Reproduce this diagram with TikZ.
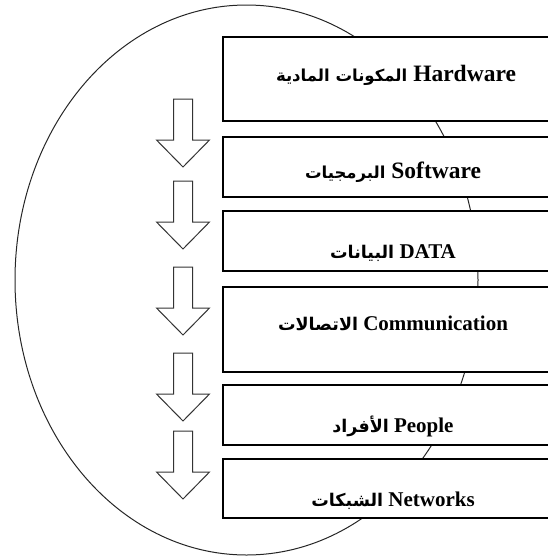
\documentclass[tikz,border=0pt]{standalone}
\usepackage{fontspec}
\setmainfont{Liberation Serif}
\newfontfamily\arabicfont[Script=Arabic]{DejaVu Sans}
\TeXXeTstate=1
\newcommand\arbig[1]{{\arabicfont\fontsize{16.5}{20}\selectfont\bfseries\beginR #1\endR}}
\newcommand\arsmall[1]{{\arabicfont\fontsize{17.5}{20}\selectfont\bfseries\beginR #1\endR}}
\begin{document}
\begin{tikzpicture}[x=1pt,y=-1pt,
  ring/.style={draw=black!85, line width=1pt},
  layerbox/.style={draw=black, line width=1.2pt, fill=white, minimum width=340pt, inner sep=0pt, outer sep=0pt},
  biglbl/.style={anchor=base, inner sep=0pt, font=\fontsize{23.5}{28}\selectfont\bfseries},
  lbl/.style={anchor=base, inner sep=0pt, font=\fontsize{21}{24}\selectfont\bfseries},
  arrowline/.style={draw=black!80, line width=1pt, fill=white, line join=miter},
  downarrow/.pic={\draw[arrowline] (-9.5,0) -- (9.5,0) -- (9.5,41) -- (26.5,41) -- (0,68) -- (-26.5,41) -- (-9.5,41) -- cycle;}
]
\useasboundingbox (0,0) rectangle (548,560);
\clip (0,0) rectangle (548,560);

% the enclosing ring, partly hidden behind the layers
\draw[ring] (246.5,280) ellipse [x radius=231.5, y radius=275];

% layers
\node[layerbox, minimum height=84pt] (b1) at (393,79) {};
\node[layerbox, minimum height=60pt] (b2) at (393,167) {};
\node[layerbox, minimum height=60pt] (b3) at (393,241) {};
\node[layerbox, minimum height=85pt] (b4) at (393,329.5) {};
\node[layerbox, minimum height=60pt] (b5) at (393,415) {};
\node[layerbox, minimum height=59pt] (b6) at (393,488.5) {};

% labels
\node[biglbl] (t1) at (396,81) {\arbig{المكونات المادية}\ Hardware};
\node[biglbl] (t2) at (393,178) {\arbig{البرمجيات}\ Software};
\node[lbl] (t3) at (393,258) {\arsmall{البيانات}\ DATA};
\node[lbl] (t4) at (393,330) {\arsmall{الاتصالات}\ Communication};
\node[lbl] (t5) at (393,432) {\arsmall{الأفراد}\ People};
\node[lbl] (t6) at (393,506) {\arsmall{الشبكات}\ Networks};

% downward flow arrows
\pic (a1) at (183,99) {downarrow};
\pic (a2) at (183,181) {downarrow};
\pic (a3) at (183,267) {downarrow};
\pic (a4) at (183,353) {downarrow};
\pic (a5) at (183,431) {downarrow};
\end{tikzpicture}
\end{document}
